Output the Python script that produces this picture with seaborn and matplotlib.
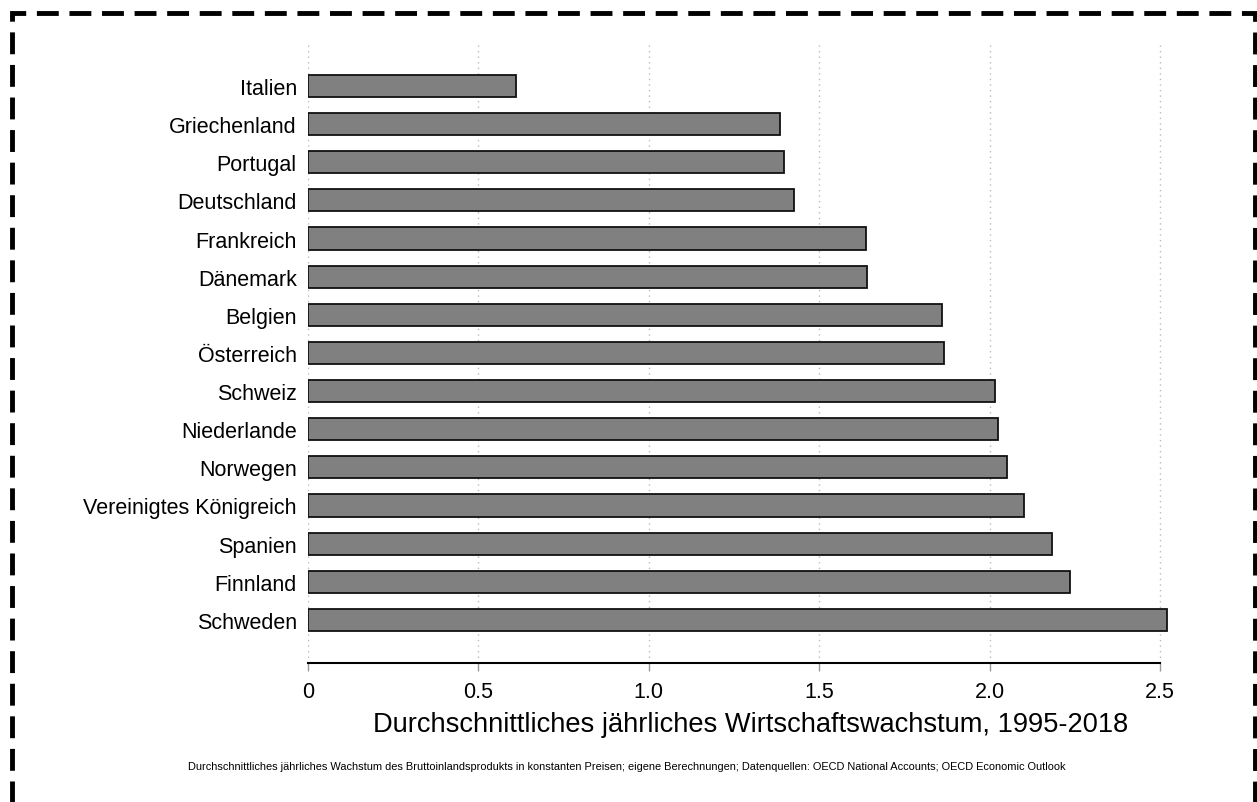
import numpy as np
import pandas as pd
import seaborn as sns
import matplotlib.pyplot as plt
from matplotlib.patches import Rectangle

# Daten
laender = ['Italien', 'Griechenland', 'Portugal', 'Deutschland', 'Frankreich',
           'Dänemark', 'Belgien', 'Österreich', 'Schweiz', 'Niederlande',
           'Norwegen', 'Vereinigtes Königreich', 'Spanien', 'Finnland', 'Schweden']
wachstum = [0.61, 1.385, 1.396, 1.425, 1.637,
            1.639, 1.859, 1.867, 2.015, 2.025,
            2.051, 2.10, 2.182, 2.235, 2.52]
xticks = [0, 0.5, 1.0, 1.5, 2.0, 2.5]
xticklabels = ['0', '0.5', '1.0', '1.5', '2.0', '2.5']

df = pd.DataFrame({'land': laender, 'wachstum': wachstum})

sns.set_style('white')
plt.rcParams['font.family'] = ['Liberation Sans', 'DejaVu Sans']
plt.rcParams['text.color'] = 'black'
plt.rcParams['xtick.color'] = 'black'
plt.rcParams['ytick.color'] = 'black'

fig = plt.figure(figsize=(12.57, 8.03), dpi=100)
ax = fig.add_axes([0.245, 0.1731, 0.6778 * 2.6 / 2.5, 0.7746])

sns.barplot(data=df, x='wachstum', y='land', orient='h', color='#808080',
            saturation=1, edgecolor='#111111', linewidth=1.3, width=0.58, ax=ax,
            zorder=3)

ax.set_xlim(0, 2.6)
ax.set_ylim(15.13, -1.18)

# gepunktete Gitterlinien
for t in xticks:
    ax.axvline(t, color='#bbbbbb', linestyle=(0, (1, 3)), linewidth=1.0, zorder=1)

ax.set_xticks(xticks)
ax.set_xticklabels(xticklabels, fontsize=15.5)
ax.tick_params(axis='x', bottom=True, direction='out', length=6, width=1,
               color='#999999', labelcolor='black', pad=7)
ax.tick_params(axis='y', left=False, length=0, pad=8, labelsize=15.5, labelcolor='black')

for s in ['top', 'right', 'left']:
    ax.spines[s].set_visible(False)
ax.spines['bottom'].set_linewidth(1.5)
ax.spines['bottom'].set_color('black')
ax.spines['bottom'].set_bounds(0, 2.5)

ax.set_ylabel('')
ax.set_xlabel('')
fig.text(751 / 1257, 1 - 725 / 803,
         'Durchschnittliches jährliches Wirtschaftswachstum, 1995-2018',
         ha='center', va='center', fontsize=19.6, color='black')
fig.text(627 / 1257, 1 - 767 / 803,
         'Durchschnittliches jährliches Wachstum des Bruttoinlandsprodukts in konstanten Preisen; '
         'eigene Berechnungen; Datenquellen: OECD National Accounts; OECD Economic Outlook',
         ha='center', va='center', fontsize=7.95, color='black')

# gestrichelter Rahmen
rahmen = Rectangle((12 / 1257, -0.05), (1255 - 12) / 1257, 1.05 - 13.5 / 803,
                   transform=fig.transFigure, fill=False, edgecolor='black',
                   linewidth=3.5, linestyle=(0, (4.5, 2.2)), clip_on=False)
fig.patches.append(rahmen)

fig.savefig('out.png', dpi=100)
